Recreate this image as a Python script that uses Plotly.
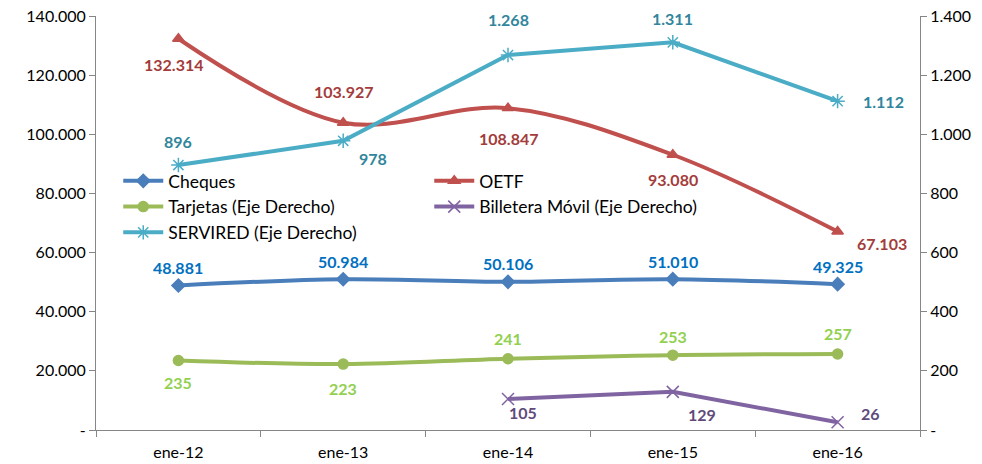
import plotly.graph_objects as go

# ── data ──────────────────────────────────────────────────────────────
periodos = ['ene-12', 'ene-13', 'ene-14', 'ene-15', 'ene-16']
cheques = [48881, 50984, 50106, 51010, 49325]
oetf = [132314, 103927, 108847, 93080, 67103]
tarjetas = [235, 223, 241, 253, 257]
billetera = [None, None, 105, 129, 26]
servired = [896, 978, 1268, 1311, 1112]

left_ticks = [0, 20000, 40000, 60000, 80000, 100000, 120000, 140000]
right_ticks = [0, 200, 400, 600, 800, 1000, 1200, 1400]


def fmt(v):
    # Excel style: thousands with dot, zero shown as dash
    if v is None:
        return ''
    if v == 0:
        return '-'
    return f'{v:,.0f}'.replace(',', '.')


FONT = 'Lato, Open Sans, sans-serif'

fig = go.Figure()

# (name, values, axis, line colour, label colour, symbol, shape, label offsets)
series = [
    ('Cheques', cheques, 'y', '#4a7ebb', '#0070c0', 'diamond', 'spline',
     [(0, 18), (0, 18), (0, 18), (0, 18), (0, 18)]),
    ('OETF', oetf, 'y', '#c0504d', '#a33c3a', 'triangle-up', 'spline',
     [(-5, -26), (0, 31), (0, -30), (0, -25), (44, -12)]),
    ('Tarjetas (Eje Derecho)', tarjetas, 'y2', '#9bbb59', '#92d050', 'circle', 'spline',
     [(0, -22), (0, -24), (0, 20), (0, 19), (0, 21)]),
    ('Billetera Móvil (Eje Derecho)', billetera, 'y2', '#8064a2', '#604a7b', 'x-thin-open', 'linear',
     [(0, 0), (0, 0), (15, -14), (29, -23), (33, 9)]),
    ('SERVIRED (Eje Derecho)', servired, 'y2', '#4bacc6', '#31859c', 'asterisk-open', 'linear',
     [(0, 24), (30, -18), (0, 36), (0, 24), (46, 0)]),
]

for name, vals, ax, col, lcol, sym, shape, offs in series:
    fig.add_trace(go.Scatter(
        x=periodos, y=vals, name=name, yaxis=ax,
        mode='lines+markers',
        line=dict(color=col, width=4, shape=shape, smoothing=1),
        marker=dict(symbol=sym, size=10 if 'open' not in sym else 12,
                    color=col, line=dict(color=col, width=1.5)),
        connectgaps=False,
        hoverinfo='skip',
    ))
    for i, v in enumerate(vals):
        if v is None:
            continue
        fig.add_annotation(
            x=periodos[i], y=v, yref=ax,
            text=f'<b>{fmt(v)}</b>', showarrow=False,
            xshift=offs[i][0], yshift=offs[i][1],
            font=dict(family=FONT, size=16, color=lcol),
        )

axis_line = '#868686'

fig.update_layout(
    width=982, height=464,
    paper_bgcolor='white', plot_bgcolor='white',
    margin=dict(l=96, r=62, t=16, b=34),
    font=dict(family=FONT, size=15, color='#000000'),
    showlegend=True,
    legend=dict(
        orientation='h',
        x=0.027, y=0.645, xanchor='left', yanchor='top',
        bgcolor='rgba(0,0,0,0)',
        itemwidth=40,
        entrywidth=256, entrywidthmode='pixels',
        font=dict(family=FONT, size=17.5, color='#000000'),
        tracegroupgap=0,
    ),
    xaxis=dict(
        type='category', range=[-0.5, 4.5], automargin=False,
        showgrid=False, zeroline=False,
        showline=True, linecolor=axis_line, linewidth=1,
        ticks='outside', tickson='boundaries', ticklen=6, tickcolor=axis_line,
        tickfont=dict(family=FONT, size=16), ticklabelstandoff=8,
    ),
    yaxis=dict(
        range=[0, 140000], automargin=False,
        tickvals=left_ticks, ticktext=[fmt(t) for t in left_ticks],
        showgrid=False, zeroline=False,
        showline=True, linecolor=axis_line, linewidth=1,
        ticks='outside', ticklen=6, tickcolor=axis_line,
        tickfont=dict(family=FONT, size=16),
    ),
    yaxis2=dict(
        range=[0, 1400], overlaying='y', side='right', automargin=False,
        tickvals=right_ticks, ticktext=[fmt(t) for t in right_ticks],
        showgrid=False, zeroline=False,
        showline=True, linecolor=axis_line, linewidth=1,
        ticks='outside', ticklen=6, tickcolor=axis_line,
        tickfont=dict(family=FONT, size=16),
    ),
)

# the page body has a default 8px margin; drop it so the figure sits at 0,0
fig.write_html('out.html', config={'displayModeBar': False},
               post_script="document.body.style.margin='0';")
